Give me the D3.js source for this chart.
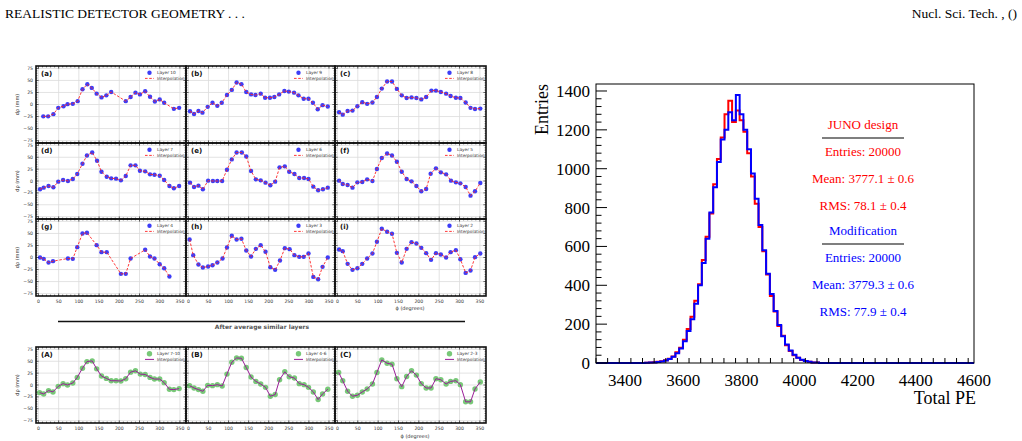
<!DOCTYPE html>
<html>
<head>
<meta charset="utf-8">
<script src="https://cdn.jsdelivr.net/npm/d3@7"></script>
<style>
  body { margin: 0; background: #fff; }
  svg { display: block; }
</style>
</head>
<body>
<div id="viz"></div>
<script>
// global sizes
let w = 1022;
let h = 441;

// ---- left figure data: phi (degrees) and d_rho (mm) per layer ----
let phiA = [12,24,37,49,62,72,85,97,109,121,132,144,156,168,180,216,228,240,251,264,276,288,300,311,335,348];
let drA  = [-24.6,-24.6,-20,-7,-3.5,0.7,1.4,7,31.7,42,34.5,22.5,14.8,19,26,7,15.5,24.6,21,27.5,16,6.3,10.6,3.5,-9,-7];

let phiB = [4,14,25,35,48,60,72,83,96,108,120,132,144,156,167,180,191,203,214,226,239,250,263,274,287,299,310,322,334,347];
let drB  = [-14,-19.7,-13.4,-16.9,-4.9,3.5,-2.8,3.5,19.7,30.3,45.8,42.3,26,21,19.7,22.5,14,14,15.5,21,28.2,26.8,24.6,19,12,12,3.5,-9.9,-1.4,-4.2];

let phiC = [4,13,25,37,49,61,73,86,97,109,122,134,146,158,170,182,194,206,218,231,242,254,267,278,291,302,315,327,338,351];
let drC  = [-16.2,-21.1,-13.4,-12.7,-3.5,4.9,1.4,4.2,15.5,33,47.9,47.9,32.4,19,13.4,14.8,13.4,10.6,15.5,28.9,28.9,26,22.5,17.6,14,13.4,4.2,-7,-9.2,-8.5];

let phiD = [4,13,25,37,49,61,73,85,96,109,120,133,145,156,169,180,192,204,216,228,240,251,264,276,287,300,311,324,335,348];
let drD  = [-17.5,-14,-10.5,-13.3,-1.4,2.1,0,4.2,14.7,36.4,53.8,60.1,42.7,19.6,9.1,5.6,4.9,1.4,10.5,32.9,32.9,21.7,20.3,14,13.3,11.2,2.1,-10.5,-15.4,-10.5];

let phiE = [4,14,25,36,49,61,72,84,96,108,120,133,144,156,168,180,192,204,216,227,240,251,264,276,288,299,311,323,335,347];
let drE  = [-3.5,-12.6,-9.8,-17.5,0.7,0,0,0,23.8,45.5,60.1,60.1,51.7,21,3.5,1.4,-3.5,-9.1,-1.4,28.7,30.8,19.6,14.7,6.3,6.3,4.2,-11.9,-19.6,-17.5,-14];

let phiF = [4,13,25,37,49,61,73,86,97,109,122,134,146,158,170,182,194,206,218,229,242,254,267,279,291,302,315,327,338,351];
let drF  = [0.7,-6.3,-8.4,-14,-2.8,-2.1,3.5,0,25.2,48.3,58,53.8,40.6,19.6,4.2,-0.7,-10.5,-21.7,-16.8,15.4,26.6,18.2,14,0.7,-2.8,-4.9,-12.6,-30.8,-21.7,-4.2];

let phiG = [4,13,25,36,73,85,96,109,120,144,156,169,204,216,228,264,276,287,300,311,324];
let drG  = [0,-2.8,-10.4,-7.6,-2.1,-2.8,21.5,50,51.5,25.7,11.1,11.1,-34,-34,-2.1,16,2.1,-2.1,-13.9,-22.2,-39.6];

let phiH = [3,12,25,36,49,60,72,85,96,108,120,132,144,156,168,180,192,204,216,228,240,252,264,276,287,299,311,323,334,347];
let drH  = [37.5,4.9,-14.6,-20.8,-18.8,-16,-10.4,-2.1,20.8,45.1,37.5,38.9,14.6,2.1,18,25.7,11.8,-20.1,-25.7,-6.3,19.4,17.4,4.9,1.4,1.4,8.3,-40.3,-45.1,-19.4,0];

let phiI = [4,13,25,37,49,61,73,86,97,109,122,134,146,158,170,182,194,206,218,230,242,254,267,278,291,302,315,327,338,351];
let drI  = [16.7,13.2,-13.2,-25.7,-22.2,-13.2,-2.1,8.3,32.6,59.8,53.5,49.4,9.7,-10.4,18,31.9,29.2,20.1,9,-4.9,9,6.3,0,11.1,15.3,-3.5,-32,-27.1,0.7,8.3];

// averaged layers
let phiAvgA = [3,13,25,36,49,61,72,85,96,109,120,133,144,156,168,180,192,204,216,228,240,252,264,276,287,300,311,324,335,348];
let drAvgA  = [-16,-18.8,-11.8,-14.6,-2.8,2.8,0,4.2,16,35.4,49.3,50.7,34,18.8,13.9,9,9,8.3,13.2,27.1,29.9,22.9,22.2,16,12.5,12.5,4.9,-9,-9.7,-7.6];

let phiAvgB = [3,14,25,36,48,60,72,84,96,108,120,132,144,156,168,180,192,204,216,227,240,251,264,276,288,299,311,323,334,347];
let drAvgB  = [-1.4,-6.3,-9.7,-13.2,-0.7,-1.4,0.7,-2.1,22.9,47.9,56.9,56.3,36.8,16.7,7.6,2.1,-4.9,-23.6,-20.1,11.1,27.8,17.4,14.6,2.8,0.7,-4.9,-14.6,-30.6,-18.8,-9];

let phiAvgC = [3,13,25,37,49,61,73,86,97,109,122,134,146,158,170,182,194,206,218,230,242,254,267,278,291,302,315,327,338,351];
let drAvgC  = [26.4,9,-13.2,-23.6,-21.5,-14.6,-8.3,2.1,26.4,52.8,45.8,43.8,13.2,-3.5,18,29.9,20.8,2.8,-6.3,-6.3,13.2,11.1,2.1,7.6,9,0.7,-35.4,-35.4,-8.3,6.3];

let panelLabels = ["(a)","(b)","(c)","(d)","(e)","(f)","(g)","(h)","(i)"];
let layerNames = ["Layer 10","Layer 9","Layer 8","Layer 7","Layer 6","Layer 5","Layer 4","Layer 3","Layer 2"];
let avgLabels = ["(A)","(B)","(C)"];
let avgNames = ["Layer 7-10","Layer 4-6","Layer 2-3"];
let phiTicks = [0,50,100,150,200,250,300,350];
let drTicks = [-75,-50,-25,0,25,50,75];

// ---- right figure data: histogram of total PE, 100 bins 3300..4600 ----
let binLow = 3300;
let binWidth = 13;
let firstBin = 13; // index of first non-empty bin
let junoCounts = [1,2,4,6,9,14,22,33,55,78,120,175,238,320,405,530,650,770,920,1050,1160,1280,1350,1240,1300,1250,1190,1080,960,820,700,575,455,345,265,190,140,92,62,40,27,16,10,6,3,2];
let modCounts  = [1,2,3,5,8,13,20,32,50,75,112,165,225,305,400,515,640,775,905,1035,1150,1200,1290,1250,1380,1280,1200,1100,975,845,710,580,460,355,268,195,138,95,64,42,27,17,10,6,3,2];
let peTicks = [3400,3600,3800,4000,4200,4400,4600];
let entryTicks = [0,200,400,600,800,1000,1200,1400];
let junoStats = ["JUNO design","Entries: 20000","Mean: 3777.1 \u00b1 0.6","RMS: 78.1 \u00b1 0.4"];
let modStats  = ["Modification","Entries: 20000","Mean: 3779.3 \u00b1 0.6","RMS: 77.9 \u00b1 0.4"];

let viz = d3.select("#viz")
  .append("svg")
    .attr("width", w)
    .attr("height", h)
    .style("font-family", "'DejaVu Sans', sans-serif")
;

// page header
viz.append("text").text("REALISTIC DETECTOR GEOMETRY . . .")
  .attr("x", 5).attr("y", 18)
  .style("font-family", "'Liberation Serif', serif").style("font-size", "13.5px");
viz.append("text").text("Nucl. Sci. Tech. , ()")
  .attr("x", 1017).attr("y", 18).attr("text-anchor", "end")
  .style("font-family", "'Liberation Serif', serif").style("font-size", "13.5px");

// ---------- small panels ----------
let colX = [36, 186, 335];
let colW = [150, 149, 151];

function drawPanel(x0, y0, pw, ph, phi, dr, opt){
  let g = viz.append("g");
  let xs = d3.scaleLinear().domain([-6, 365]).range([x0, x0 + pw]);
  let ys = d3.scaleLinear().domain([-80, 80]).range([y0 + ph, y0]);

  // grid
  g.selectAll(".gx").data(phiTicks).enter().append("line")
    .attr("x1", d => xs(d)).attr("x2", d => xs(d))
    .attr("y1", y0).attr("y2", y0 + ph)
    .attr("stroke", "#dcdcdc").attr("stroke-width", 0.8);
  g.selectAll(".gy").data(drTicks).enter().append("line")
    .attr("x1", x0).attr("x2", x0 + pw)
    .attr("y1", d => ys(d)).attr("y2", d => ys(d))
    .attr("stroke", "#dcdcdc").attr("stroke-width", 0.8);

  let pts = phi.map((p, i) => [p, dr[i]]);

  // points
  g.selectAll("circle").data(pts).enter().append("circle")
    .attr("cx", d => xs(d[0])).attr("cy", d => ys(d[1]))
    .attr("r", opt.r)
    .attr("fill", opt.dot);

  // interpolation
  let line = d3.line().x(d => xs(d[0])).y(d => ys(d[1]));
  g.append("path").attr("d", line(pts))
    .attr("fill", "none").attr("stroke", opt.lineColor)
    .attr("stroke-width", opt.lw)
    .attr("stroke-dasharray", opt.dash);

  // minor & major ticks (inward, all sides)
  let minorX = d3.range(0, 361, 10);
  let minorY = d3.range(-75, 76, 5);
  minorX.forEach(function(v){
    let len = (v % 50 == 0) ? 2.6 : 1.4;
    g.append("line").attr("x1", xs(v)).attr("x2", xs(v)).attr("y1", y0 + ph).attr("y2", y0 + ph - len).attr("stroke", "#000").attr("stroke-width", 0.6);
    g.append("line").attr("x1", xs(v)).attr("x2", xs(v)).attr("y1", y0).attr("y2", y0 + len).attr("stroke", "#000").attr("stroke-width", 0.6);
  });
  minorY.forEach(function(v){
    let len = (v % 25 == 0) ? 2.6 : 1.4;
    g.append("line").attr("x1", x0).attr("x2", x0 + len).attr("y1", ys(v)).attr("y2", ys(v)).attr("stroke", "#000").attr("stroke-width", 0.6);
    g.append("line").attr("x1", x0 + pw).attr("x2", x0 + pw - len).attr("y1", ys(v)).attr("y2", ys(v)).attr("stroke", "#000").attr("stroke-width", 0.6);
  });

  // frame
  g.append("rect").attr("x", x0).attr("y", y0).attr("width", pw).attr("height", ph)
    .attr("fill", "none").attr("stroke", "#111").attr("stroke-width", 1.6);

  // tick labels
  if(opt.yLabels){
    g.selectAll(".yl").data(drTicks).enter().append("text")
      .text(d => d < 0 ? "\u2212" + Math.abs(d) : d)
      .attr("x", x0 - 3).attr("y", d => ys(d) + 1.6)
      .attr("text-anchor", "end").style("font-size", "4.6px").attr("fill", "#333");
    g.append("text").text("d\u03c1 (mm)")
      .attr("transform", "translate(" + (x0 - 17) + "," + (y0 + ph / 2) + ") rotate(-90)")
      .attr("text-anchor", "middle").style("font-size", "5px").attr("fill", "#333");
  }
  if(opt.xLabels){
    g.selectAll(".xl").data(phiTicks).enter().append("text")
      .text(d => d)
      .attr("x", d => xs(d)).attr("y", y0 + ph + 7)
      .attr("text-anchor", "middle").style("font-size", "4.6px").attr("fill", "#333");
  }

  // panel tag
  g.append("text").text(opt.tag)
    .attr("x", x0 + 5).attr("y", y0 + 10)
    .style("font-size", "7px").style("font-weight", "bold").attr("fill", "#111");

  // legend
  let lx = x0 + pw - 41;
  g.append("circle").attr("cx", lx + 4.5).attr("cy", y0 + 6.8).attr("r", opt.r).attr("fill", opt.dot);
  g.append("line").attr("x1", lx).attr("x2", lx + 9).attr("y1", y0 + 12.4).attr("y2", y0 + 12.4)
    .attr("stroke", opt.lineColor).attr("stroke-width", opt.lw).attr("stroke-dasharray", opt.dash);
  g.append("text").text(opt.name).attr("x", lx + 12).attr("y", y0 + 8.3)
    .style("font-size", "4.3px").attr("fill", "#333");
  g.append("text").text("Interpolation").attr("x", lx + 12).attr("y", y0 + 13.9)
    .style("font-size", "4.3px").attr("fill", "#333");
}

let topPhi = [phiA, phiB, phiC, phiD, phiE, phiF, phiG, phiH, phiI];
let topDr  = [drA, drB, drC, drD, drE, drF, drG, drH, drI];
let rowY = [66, 143, 219];
let rowH = [77, 76, 77];

topPhi.forEach(function(phi, i){
  let r = Math.floor(i / 3), c = i % 3;
  drawPanel(colX[c], rowY[r], colW[c], rowH[r], phi, topDr[i], {
    r: 2.2, dot: "#3d3df7", lineColor: "#f22", lw: 0.9, dash: "2.6,1.6",
    tag: panelLabels[i], name: layerNames[i],
    yLabels: c == 0, xLabels: r == 2
  });
});

viz.append("text").text("\u03d5 (degrees)")
  .attr("x", 410).attr("y", 310).attr("text-anchor", "middle")
  .style("font-size", "5px").attr("fill", "#333");

// separator
viz.append("line").attr("x1", 58).attr("x2", 465).attr("y1", 321.5).attr("y2", 321.5)
  .attr("stroke", "#111").attr("stroke-width", 1.4);
viz.append("text").text("After average similar layers")
  .attr("x", 262).attr("y", 329).attr("text-anchor", "middle")
  .style("font-size", "6px").style("font-weight", "bold").attr("fill", "#555");

let avgPhi = [phiAvgA, phiAvgB, phiAvgC];
let avgDr = [drAvgA, drAvgB, drAvgC];
avgPhi.forEach(function(phi, c){
  drawPanel(colX[c], 347, colW[c], 76, phi, avgDr[c], {
    r: 2.7, dot: "#78c878", lineColor: "#9a1d98", lw: 1.0, dash: null,
    tag: avgLabels[c], name: avgNames[c],
    yLabels: c == 0, xLabels: true
  });
});
viz.append("text").text("\u03d5 (degrees)")
  .attr("x", 415).attr("y", 437.5).attr("text-anchor", "middle")
  .style("font-size", "5px").attr("fill", "#333");

// ---------- histogram ----------
let hx = d3.scaleLinear().domain([3300, 4600]).range([596, 974]);
let hy = d3.scaleLinear().domain([0, 1436]).range([363, 84]);
let serif = "'Liberation Serif', 'Times New Roman', serif";
let hg = viz.append("g").style("font-family", serif);

function stepPath(counts){
  let pts = [];
  pts.push([binLow, 0]);
  for(let k = 0; k < 100; k++){
    let j = k - firstBin;
    let v = (j >= 0 && j < counts.length) ? counts[j] : 0;
    pts.push([binLow + k * binWidth, v]);
    pts.push([binLow + (k + 1) * binWidth, v]);
  }
  return d3.line().x(d => hx(d[0])).y(d => hy(d[1]))(pts);
}

hg.append("path").attr("d", stepPath(junoCounts))
  .attr("fill", "none").attr("stroke", "#ff0000").attr("stroke-width", 2);
hg.append("path").attr("d", stepPath(modCounts))
  .attr("fill", "none").attr("stroke", "#0000ff").attr("stroke-width", 2);

// axes ticks
d3.range(3300, 4601, 40).forEach(function(v){
  let len = (v % 200 == 0) ? 10 : 5;
  hg.append("line").attr("x1", hx(v)).attr("x2", hx(v)).attr("y1", hy(0)).attr("y2", hy(0) - len)
    .attr("stroke", "#000").attr("stroke-width", 1);
});
d3.range(0, 1436, 40).forEach(function(v){
  let len = (v % 200 == 0) ? 11 : 5.5;
  hg.append("line").attr("x1", hx(3300)).attr("x2", hx(3300) + len).attr("y1", hy(v)).attr("y2", hy(v))
    .attr("stroke", "#000").attr("stroke-width", 1);
});
hg.append("rect").attr("x", hx(3300)).attr("y", hy(1436))
  .attr("width", hx(4600) - hx(3300)).attr("height", hy(0) - hy(1436))
  .attr("fill", "none").attr("stroke", "#000").attr("stroke-width", 1);

hg.selectAll(".xt").data(peTicks).enter().append("text")
  .text(d => d).attr("x", d => hx(d)).attr("y", 386)
  .attr("text-anchor", "middle").style("font-size", "17px");
hg.selectAll(".yt").data(entryTicks).enter().append("text")
  .text(d => d).attr("x", 590).attr("y", d => hy(d) + 6)
  .attr("text-anchor", "end").style("font-size", "17px");
hg.append("text").text("Total PE").attr("x", 976).attr("y", 404)
  .attr("text-anchor", "end").style("font-size", "18px");
hg.append("text").text("Entries")
  .attr("transform", "translate(548,84) rotate(-90)")
  .attr("text-anchor", "end").style("font-size", "18px");

// stats boxes
function stats(lines, color, y0){
  lines.forEach(function(t, i){
    hg.append("text").text(t).attr("x", 863).attr("y", y0 + i * 27)
      .attr("text-anchor", "middle").style("font-size", "13px").attr("fill", color);
  });
  hg.append("line").attr("x1", 822).attr("x2", 904).attr("y1", y0 + 9).attr("y2", y0 + 9)
    .attr("stroke", "#000").attr("stroke-width", 1.2);
}
stats(junoStats, "#ff0000", 129);
stats(modStats, "#0000ff", 235);
</script>
</body>
</html>
